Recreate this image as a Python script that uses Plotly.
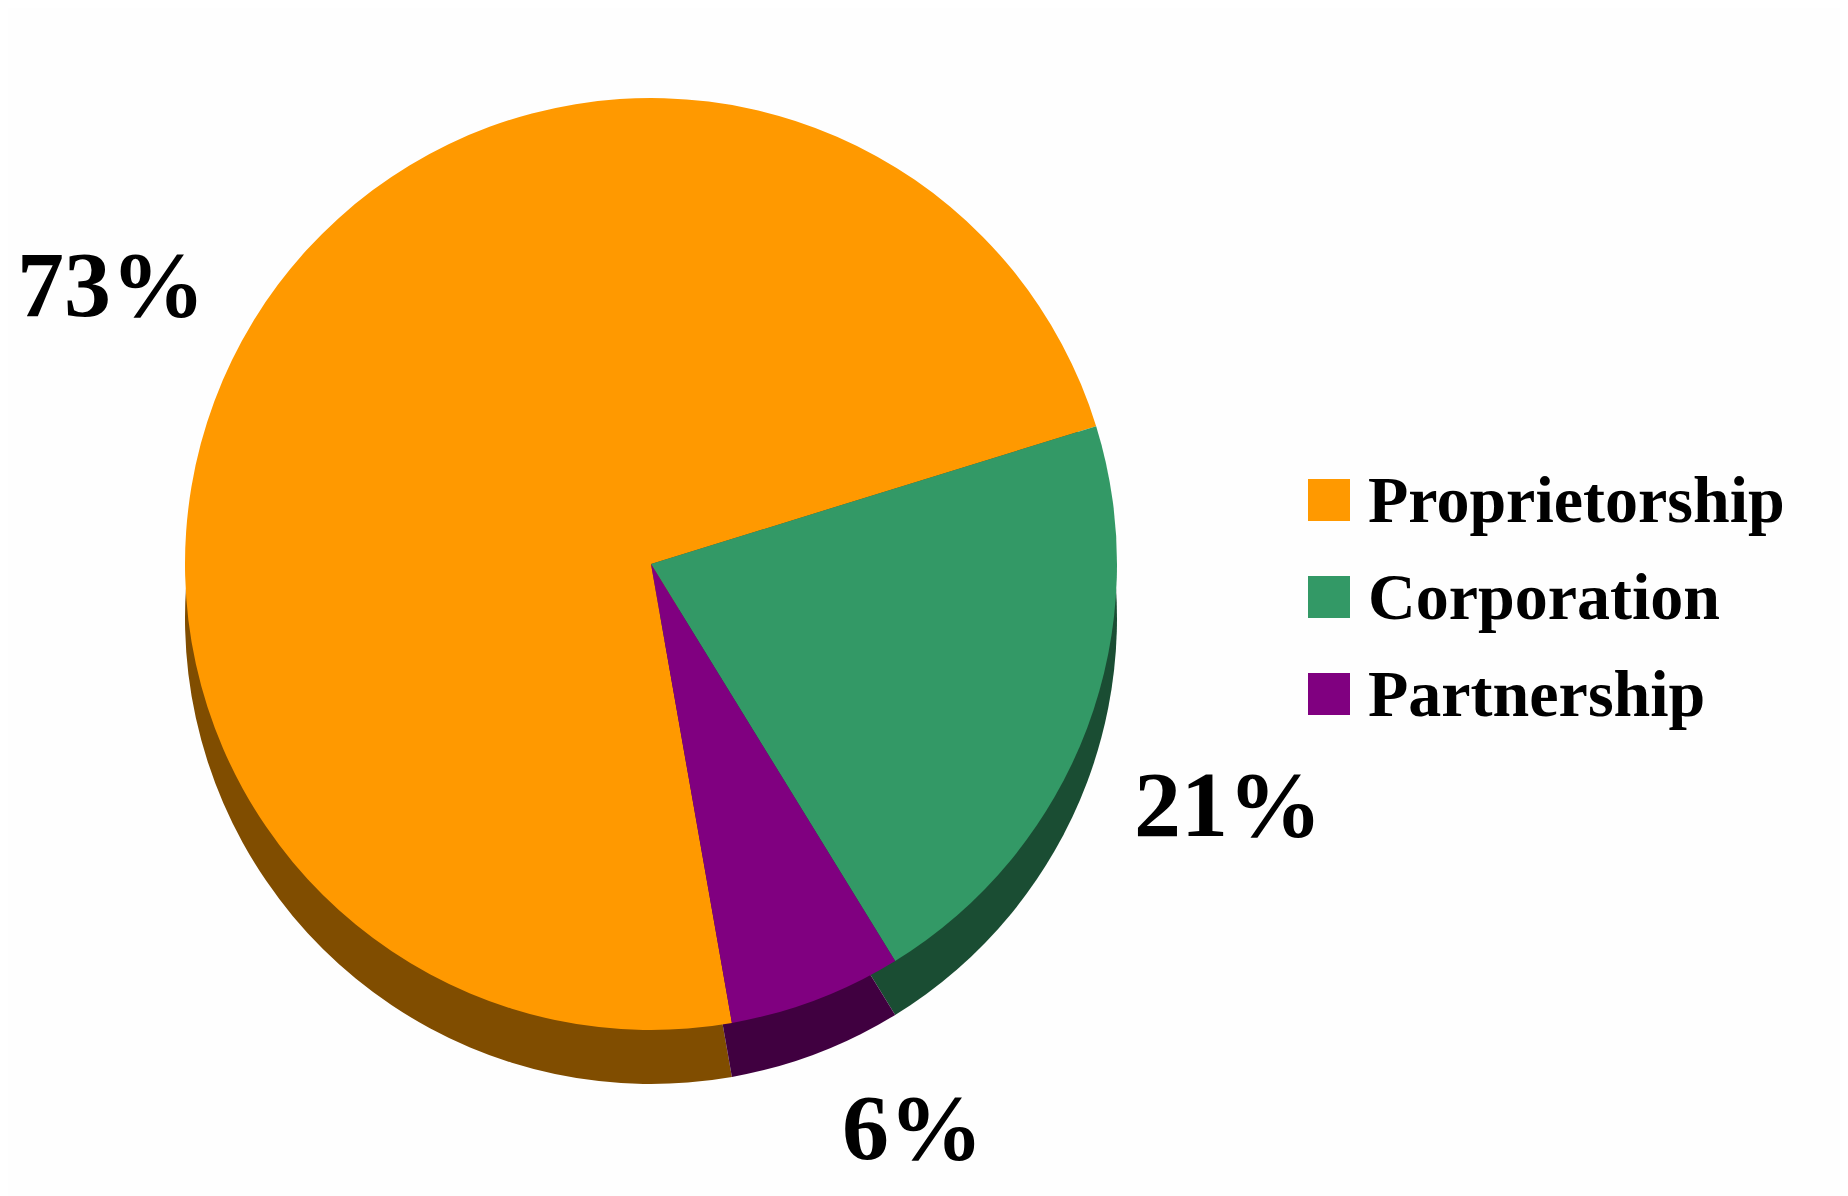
import plotly.graph_objects as go

# ---- data ----
categories = ["Proprietorship", "Corporation", "Partnership"]
shares = [73, 21, 6]
face_colors = ["#FF9900", "#339966", "#800080"]
side_colors = ["#804D00", "#1A4D33", "#400040"]

W, H = 1848, 1196
FONT = "Liberation Serif"
OFF = 8  # page body margin compensation

# pie geometry (pixels)
cx, cy, R, depth = 651 - OFF, 564 - OFF, 466, 54


def dom(cx, cy, r):
    return dict(x=[(cx - r) / W, (cx + r) / W], y=[1 - (cy + r) / H, 1 - (cy - r) / H])


common = dict(
    labels=categories,
    values=shares,
    sort=False,
    direction="clockwise",
    rotation=170,
    textinfo="none",
    hoverinfo="label+percent",
    showlegend=False,
)

fig = go.Figure()
# extruded side (shadow) of the 3D pie
fig.add_trace(go.Pie(domain=dom(cx, cy + depth, R),
                     marker=dict(colors=side_colors, line=dict(width=0)), **common))
# top face
fig.add_trace(go.Pie(domain=dom(cx, cy, R),
                     marker=dict(colors=face_colors, line=dict(width=0)), **common))

# percentage labels
label_pos = [(111, 284), (1228, 804), (912, 1127)]
annotations = []
for v, (px, py) in zip(shares, label_pos):
    annotations.append(dict(
        text=f"{v}%", x=(px - OFF) / W, y=1 - (py - OFF) / H, xref="paper", yref="paper",
        xanchor="center", yanchor="middle", showarrow=False,
        font=dict(family=FONT, size=94, color="black", weight="bold"),
    ))

# legend (swatches + text)
shapes = []
row_y = [500, 597, 694]
sw_x0, sw = 1308, 42
for name, col, ry in zip(categories, face_colors, row_y):
    ry = ry - OFF
    x0 = sw_x0 - OFF
    shapes.append(dict(type="rect", xref="paper", yref="paper",
                       x0=x0 / W, x1=(x0 + sw) / W,
                       y0=1 - (ry + sw / 2) / H, y1=1 - (ry - sw / 2) / H,
                       fillcolor=col, line=dict(width=0)))
    annotations.append(dict(
        text=name, x=(1366 - OFF) / W, y=1 - ry / H, xref="paper", yref="paper",
        xanchor="left", yanchor="middle", showarrow=False,
        font=dict(family=FONT, size=66, color="black", weight="bold"),
    ))

fig.update_layout(
    width=W, height=H,
    margin=dict(l=0, r=0, t=0, b=0),
    paper_bgcolor="#FEFEFE",
    plot_bgcolor="#FEFEFE",
    annotations=annotations,
    shapes=shapes,
)

fig.write_html("out.html")
